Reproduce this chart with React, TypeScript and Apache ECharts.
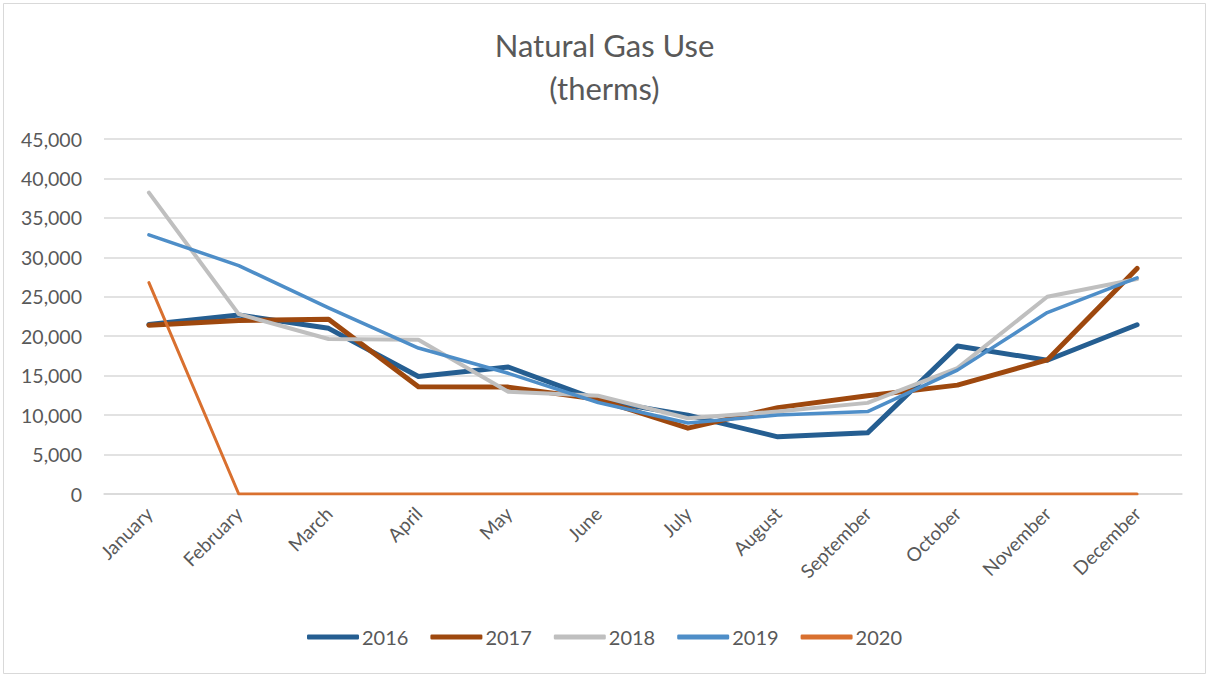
import React, { useEffect, useRef } from "react";
import * as echarts from "echarts";

const months = ["January", "February", "March", "April", "May", "June", "July", "August", "September", "October", "November", "December"];
const s2016 = [21500, 22700, 21000, 14900, 16100, 11900, 10000, 7250, 7750, 18750, 16950, 21450];
const s2017 = [21400, 22000, 22150, 13600, 13550, 12000, 8350, 10950, 12450, 13800, 17000, 28600];
const s2018 = [38200, 22800, 19650, 19550, 12950, 12450, 9600, 10450, 11550, 15950, 25000, 27250];
const s2019 = [32850, 28950, 23600, 18500, 15300, 11600, 9000, 10000, 10450, 15700, 23000, 27400];
const s2020 = [26800, 0, 0, 0, 0, 0, 0, 0, 0, 0, 0, 0];
const yearNames = ["2016", "2017", "2018", "2019", "2020"];

export default function App() {
  const ref = useRef<HTMLDivElement>(null);
  useEffect(() => {
    document.body.style.margin = "0";
    const chart = echarts.init(ref.current!, null, { renderer: "svg" });
    const font = "Lato, 'Open Sans', sans-serif";
    const colors = ["#255E91", "#9E480E", "#BFBFBF", "#4E8EC8", "#D9702F"];
    const widths = [5, 5, 4, 3.5, 3];
    const data = [s2016, s2017, s2018, s2019, s2020];
    chart.setOption({
      animation: false,
      backgroundColor: "#fff",
      textStyle: { fontFamily: font },
      title: {
        text: "Natural Gas Use\n(therms)",
        left: "center",
        top: 18,
        textStyle: { fontFamily: font, fontSize: 31, fontWeight: "normal", color: "#595959", lineHeight: 43 },
      },
      graphic: [
        { type: "rect", shape: { x: 3.5, y: 3.5, width: 1202, height: 670 }, style: { fill: "none", stroke: "#d9d9d9", lineWidth: 1 } },
      ],
      legend: {
        top: 622,
        left: "center",
        itemWidth: 52,
        itemHeight: 5,
        itemGap: 22,
        icon: "roundRect",
        data: yearNames,
        textStyle: { fontFamily: font, fontSize: 20, color: "#595959", padding: [0, 0, 0, -2] },
      },
      grid: { left: 104, right: 27, top: 139, bottom: 183 },
      xAxis: {
        type: "category",
        data: months,
        boundaryGap: true,
        axisLine: { lineStyle: { color: "#d9d9d9", width: 1.5 } },
        axisTick: { show: false },
        axisLabel: { rotate: 45, fontSize: 19, color: "#595959", fontFamily: font, margin: 16 },
      },
      yAxis: {
        type: "value",
        min: 0,
        max: 45000,
        interval: 5000,
        axisLine: { show: false },
        axisTick: { show: false },
        splitLine: { lineStyle: { color: "#d9d9d9", width: 1.5 } },
        axisLabel: {
          fontSize: 19.5,
          color: "#595959",
          fontFamily: font,
          margin: 22,
          formatter: (v: number) => v.toLocaleString("en-US"),
        },
      },
      series: yearNames.map((n, i) => ({
        name: n,
        type: "line",
        data: data[i],
        symbol: "none",
        color: colors[i],
        lineStyle: { color: colors[i], width: widths[i], cap: "round", join: "round" },
      })),
    });
    return () => chart.dispose();
  }, []);
  return <div ref={ref} style={{ width: 1209, height: 677 }} />;
}
